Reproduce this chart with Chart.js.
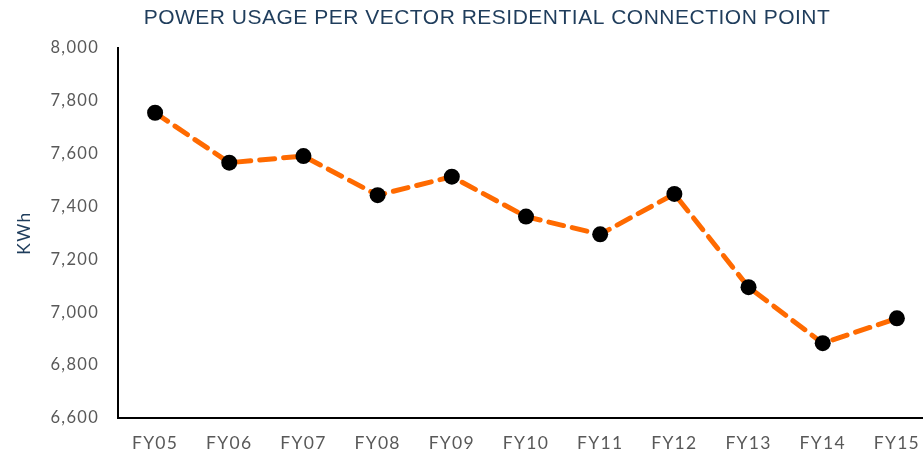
<!DOCTYPE html>
<html>
<head>
<meta charset="utf-8">
<script src="https://cdn.jsdelivr.net/npm/chart.js@4/dist/chart.umd.min.js"></script>
<style>
  html, body { margin: 0; padding: 0; background: #fff; overflow: hidden; }
  #wrap { width: 923px; height: 455px; overflow: hidden; }
</style>
</head>
<body>
<div id="wrap"><canvas id="chart" width="942" height="455"></canvas></div>
<script>
  // Chart data
  const years = ['FY05', 'FY06', 'FY07', 'FY08', 'FY09', 'FY10', 'FY11', 'FY12', 'FY13', 'FY14', 'FY15'];
  const usageKWh = [7755, 7566, 7591, 7443, 7513, 7362, 7295, 7448, 7095, 6883, 6977];
  const yTicks = [6600, 6800, 7000, 7200, 7400, 7600, 7800, 8000];

  const titleText = 'POWER USAGE PER VECTOR RESIDENTIAL CONNECTION POINT';
  const navy = '#1f3d5c';
  const grey = '#595959';

  // Slightly spaced-out text, like the original export
  const spacingPlugin = {
    id: 'letterSpacing',
    beforeDraw(chart) {
      chart.ctx.letterSpacing = '1.3px';
    }
  };

  // Title drawn by hand so it can sit off-centre like the original
  const titlePlugin = {
    id: 'customTitle',
    afterDraw(chart) {
      const ctx = chart.ctx;
      ctx.save();
      ctx.letterSpacing = '0.5px';
      ctx.fillStyle = navy;
      ctx.font = '21px "Liberation Sans", Arial, sans-serif';
      ctx.textAlign = 'center';
      ctx.textBaseline = 'middle';
      ctx.fillText(titleText, 487, 18);
      ctx.restore();
    }
  };

  new Chart(document.getElementById('chart'), {
    type: 'line',
    data: {
      labels: years,
      datasets: [{
        data: usageKWh,
        borderColor: '#ff6a00',
        borderWidth: 5,
        borderDash: [15, 9],
        borderCapStyle: 'round',
        pointRadius: 8,
        pointBackgroundColor: '#000',
        pointBorderWidth: 0,
        tension: 0,
        fill: false
      }]
    },
    options: {
      responsive: false,
      animation: false,
      events: [],
      layout: { padding: { top: 48, right: 0, bottom: 0, left: 0 } },
      plugins: {
        legend: { display: false },
        tooltip: { enabled: false },
        title: { display: false }
      },
      scales: {
        x: {
          offset: true,
          grid: { display: false, drawTicks: false },
          border: { color: '#000', width: 2 },
          ticks: {
            color: grey,
            padding: 15,
            font: { family: 'Lato, "DejaVu Sans", sans-serif', size: 17.5 }
          },
          afterFit(scale) { scale.height = 37; }
        },
        y: {
          min: yTicks[0],
          max: yTicks[yTicks.length - 1],
          grid: { display: false, drawTicks: false },
          border: { color: '#000', width: 2 },
          afterBuildTicks(scale) {
            scale.ticks = yTicks.map((v) => ({ value: v }));
          },
          ticks: {
            color: grey,
            padding: 19,
            font: { family: 'Lato, "DejaVu Sans", sans-serif', size: 16.5 },
            callback: (v) => v.toLocaleString('en-US')
          },
          title: {
            display: true,
            text: 'KWh',
            color: navy,
            padding: { top: 14, bottom: 0 },
            font: { family: 'Lato, "DejaVu Sans", sans-serif', size: 17.5 }
          },
          afterFit(scale) { scale.width = 118; }
        }
      }
    },
    plugins: [spacingPlugin, titlePlugin]
  });
</script>
</body>
</html>
